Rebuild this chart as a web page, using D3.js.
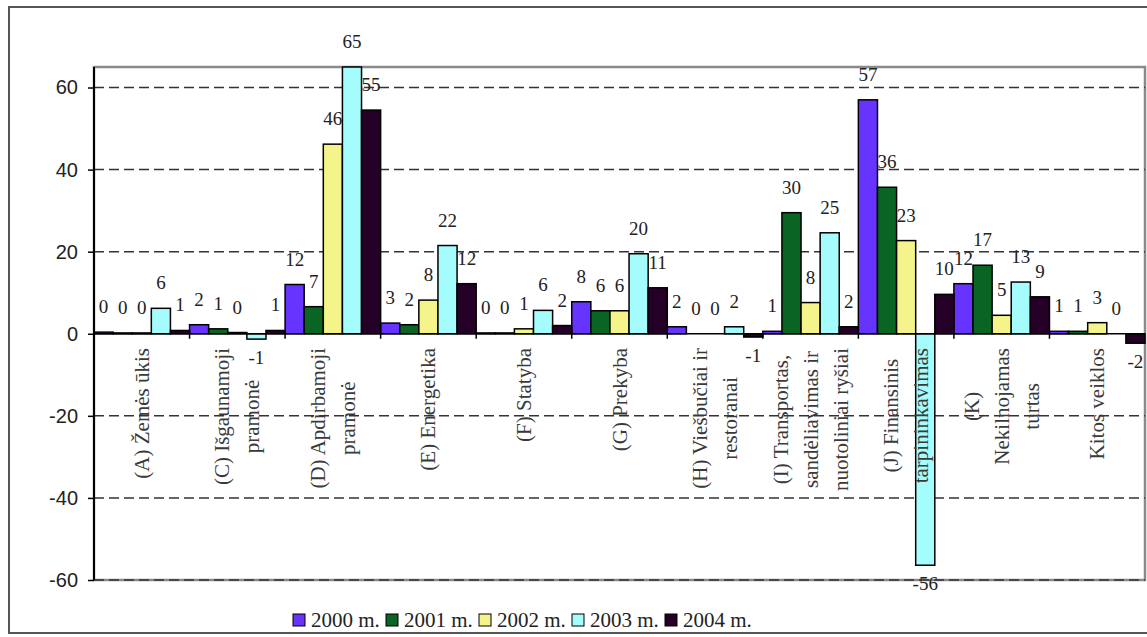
<!DOCTYPE html>
<html><head><meta charset="utf-8">
<script src="https://cdn.jsdelivr.net/npm/d3@7"></script>
<style>body{margin:0;background:#fff}svg{display:block}</style>
</head><body><svg id="c" width="1147" height="637"></svg>
<script>
const categories = ["(A) Žemės ūkis", "(C) Išgaunamoji\npramonė", "(D) Apdirbamoji\npramonė", "(E) Energetika",
  "(F) Statyba", "(G) Prekyba", "(H) Viešbučiai ir\nrestoranai", "(I) Transportas,\nsandėliavimas ir\nnuotoliniai ryšiai",
  "(J) Finansinis\ntarpininkavimas", "(K)\nNekilnojamas\nturtas", "Kitos veiklos"];
const seriesNames = ["2000 m.", "2001 m.", "2002 m.", "2003 m.", "2004 m."];
const s2000 = [0.4, 2.2, 12, 2.6, 0.2, 7.8, 1.7, 0.6, 57, 12.2, 0.6];
const s2001 = [0.2, 1.2, 6.6, 2.2, 0.2, 5.6, 0, 29.5, 35.7, 16.7, 0.6];
const s2002 = [0.2, 0.3, 46.2, 8.2, 1.2, 5.6, 0, 7.6, 22.7, 4.5, 2.7];
const s2003 = [6.2, -1.3, 65, 21.5, 5.7, 19.5, 1.7, 24.6, -56.4, 12.6, 0];
const s2004 = [0.8, 0.8, 54.5, 12.2, 2, 11.2, -0.8, 1.7, 9.6, 9, -2.3];
const yTicks = [-60, -40, -20, 0, 20, 40, 60];
const colors = ["#6633ff", "#0a6424", "#f4f48a", "#a4fcfc", "#250026"];

const series = [s2000, s2001, s2002, s2003, s2004];
const svg = d3.select("#c");
const L = 94, R = 1145, T = 67, B = 580;
const y = d3.scaleLinear().domain([-60, 65]).range([B, T]);
const x = d3.scaleBand().domain(categories.map((c, i) => i)).range([L, R]).padding(0);
const xs = d3.scaleBand().domain(seriesNames.map((s, i) => i)).range([0, x.bandwidth()]).padding(0);
const fontSerif = "'Liberation Serif','Times New Roman',serif";

// outer frame
svg.append("rect").attr("x", 9).attr("y", 7).attr("width", 1160).attr("height", 626)
  .attr("fill", "none").attr("stroke", "#555").attr("stroke-width", 2);

// plot border
svg.append("rect").attr("x", L).attr("y", T).attr("width", R - L).attr("height", B - T)
  .attr("fill", "none").attr("stroke", "#8a8a8a").attr("stroke-width", 2.5);

// gridlines
svg.append("g").selectAll("line").data(yTicks.filter(d => d !== 0)).join("line")
  .attr("x1", L).attr("x2", R).attr("y1", d => y(d)).attr("y2", d => y(d))
  .attr("stroke", "#333").attr("stroke-width", 1.5).attr("stroke-dasharray", "10,5");

// bars
const bars = svg.append("g");
series.forEach((s, si) => {
  bars.selectAll(null).data(s).join("rect")
    .attr("x", (d, i) => x(i) + xs(si))
    .attr("width", xs.bandwidth())
    .attr("y", d => y(Math.max(0, d)))
    .attr("height", d => Math.abs(y(d) - y(0)))
    .attr("fill", colors[si]).attr("stroke", "#000").attr("stroke-width", 1.5);
});

// zero line & category ticks
svg.append("line").attr("x1", L).attr("x2", R).attr("y1", y(0)).attr("y2", y(0))
  .attr("stroke", "#000").attr("stroke-width", 1.5);
svg.append("g").selectAll("line").data(categories.map((c, i) => i).filter(i => i > 0)).join("line")
  .attr("x1", i => x(i)).attr("x2", i => x(i)).attr("y1", y(0)).attr("y2", y(0) + 5)
  .attr("stroke", "#000").attr("stroke-width", 1.5);

// category labels (drawn above bars)
categories.forEach((c, i) => {
  const lines = c.split("\n");
  const cx = x(i) + x.bandwidth() / 2;
  const g = svg.append("g");
  const texts = lines.map((ln, j) => g.append("text").text(ln)
    .attr("font-family", fontSerif).attr("font-size", 21).attr("fill", "#3a3a3a")
    .attr("text-anchor", "middle").attr("dominant-baseline", "central"));
  const maxLen = d3.max(texts, t => t.node().getComputedTextLength());
  const cy = 348 + maxLen / 2;
  texts.forEach((t, j) => {
    const lx = cx + (j - (lines.length - 1) / 2) * 30;
    t.attr("transform", `translate(${lx},${cy}) rotate(-90)`);
  });
});

// value labels
const lab = svg.append("g");
series.forEach((s, si) => {
  lab.selectAll(null).data(s).join("text")
    .attr("x", (d, i) => x(i) + xs(si) + xs.bandwidth() / 2)
    .attr("y", d => d < 0 ? y(d) + 25 : y(d) - 19)
    .attr("text-anchor", "middle")
    .attr("font-family", fontSerif).attr("font-size", 19).attr("fill", "#222")
    .text(d => String(Math.round(d)));
});

// y axis
const ya = svg.append("g").attr("transform", `translate(${L},0)`)
  .call(d3.axisLeft(y).tickValues(yTicks).tickSize(6).tickPadding(10).tickFormat(d => String(d)));
ya.select(".domain").attr("d", `M-0,${T}V${B}`).attr("stroke", "#000").attr("stroke-width", 2);
ya.selectAll(".tick line").attr("stroke", "#000").attr("stroke-width", 1.5);
ya.selectAll(".tick text").attr("font-family", "'Liberation Sans',Arial,sans-serif")
  .attr("font-size", 20).attr("fill", "#222");

// legend
const lg = svg.append("g");
seriesNames.forEach((n, i) => {
  const gx = 293 + i * 93;
  lg.append("rect").attr("x", gx).attr("y", 614).attr("width", 12).attr("height", 12)
    .attr("fill", colors[i]).attr("stroke", "#000").attr("stroke-width", 1);
  lg.append("text").attr("x", gx + 18).attr("y", 627).text(n)
    .attr("font-family", fontSerif).attr("font-size", 21).attr("fill", "#222");
});
</script></body></html>
